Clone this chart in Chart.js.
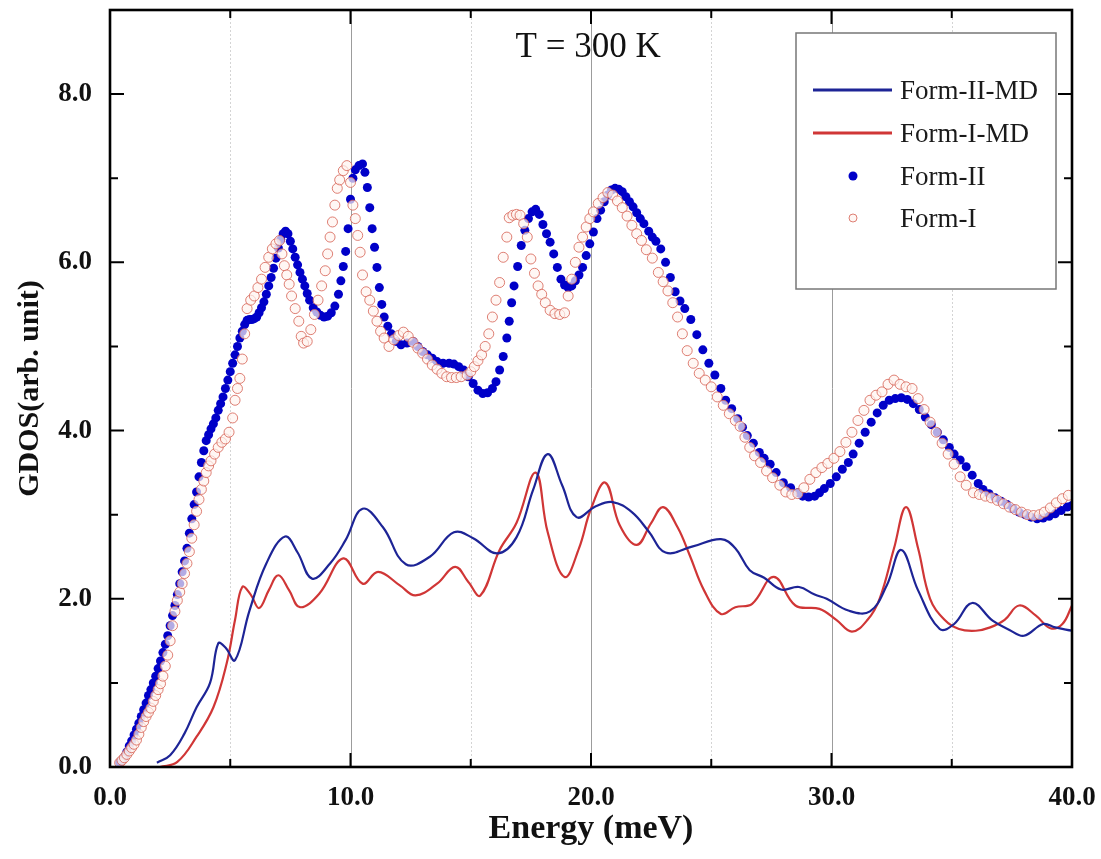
<!DOCTYPE html>
<html>
<head>
<meta charset="utf-8">
<script src="https://cdn.jsdelivr.net/npm/chart.js@4.4.0/dist/chart.umd.min.js"></script>
<style>
  html, body { margin: 0; padding: 0; background: #fff; }
  canvas { display: block; }
</style>
</head>
<body>
<canvas id="gdos" width="1101" height="859"></canvas>
<script>
// Form-II-MD (blue line)
const form2mdE = [1.95, 2.5, 3.1, 3.6, 4.16, 4.5, 4.8, 5.2, 5.8, 6.5, 7.28, 7.8, 8.4, 9.15, 9.8, 10.5, 11.35, 12.3, 13.3, 14.3, 15.1, 16.1, 16.9, 17.6, 18.2, 18.8, 19.4, 20.2, 20.9, 21.7, 22.4, 23.1, 24.2, 25.4, 26.0, 26.6, 27.2, 27.9, 28.65, 29.3, 29.8, 30.7, 31.6, 32.3, 32.9, 33.6, 34.5, 35.1, 35.85, 36.7, 37.4, 38.0, 38.8, 39.3, 40.0]
const form2mdG = [0.05, 0.14, 0.4, 0.71, 1.0, 1.47, 1.42, 1.27, 1.86, 2.42, 2.74, 2.55, 2.24, 2.42, 2.7, 3.07, 2.85, 2.41, 2.5, 2.79, 2.72, 2.54, 2.73, 3.3, 3.72, 3.35, 2.97, 3.1, 3.15, 3.03, 2.8, 2.55, 2.62, 2.71, 2.6, 2.34, 2.25, 2.11, 2.14, 2.05, 2.0, 1.86, 1.85, 2.16, 2.58, 2.1, 1.64, 1.7, 1.95, 1.74, 1.63, 1.56, 1.7, 1.66, 1.62]

// Form-I-MD (red line)
const form1mdE = [2.08, 2.8, 3.6, 4.3, 4.85, 5.2, 5.5, 5.85, 6.2, 6.6, 7.0, 7.45, 7.9, 8.7, 9.7, 10.5, 11.15, 12.05, 12.7, 13.6, 14.35, 14.9, 15.4, 16.2, 16.9, 17.7, 18.2, 18.9, 19.5, 20.0, 20.6, 21.2, 21.9, 22.5, 23.0, 23.6, 24.1, 24.7, 25.4, 26.0, 26.7, 27.6, 28.5, 29.5, 30.2, 30.85, 31.5, 32.0, 32.6, 33.1, 33.6, 34.1, 34.7, 35.3, 36.0, 36.6, 37.2, 37.8, 38.5, 39.1, 39.6, 40.0]
const form1mdG = [0.0, 0.06, 0.36, 0.71, 1.23, 1.75, 2.14, 2.05, 1.89, 2.1, 2.28, 2.1, 1.9, 2.06, 2.48, 2.18, 2.32, 2.16, 2.04, 2.18, 2.38, 2.2, 2.04, 2.58, 2.9, 3.5, 2.79, 2.26, 2.6, 3.07, 3.38, 2.87, 2.64, 2.9, 3.09, 2.85, 2.52, 2.1, 1.82, 1.9, 1.94, 2.26, 1.92, 1.88, 1.75, 1.61, 1.75, 2.0, 2.6, 3.09, 2.6, 2.0, 1.75, 1.64, 1.62, 1.66, 1.75, 1.92, 1.8, 1.65, 1.7, 1.92]

// Form-II (filled blue dots)
const form2E = [0.4, 0.5, 0.6, 0.7, 0.8, 0.9, 1.0, 1.1, 1.2, 1.3, 1.4, 1.5, 1.6, 1.7, 1.8, 1.9, 2.0, 2.1, 2.2, 2.3, 2.4, 2.5, 2.6, 2.7, 2.8, 2.9, 3.0, 3.1, 3.2, 3.3, 3.4, 3.5, 3.6, 3.7, 3.8, 3.9, 4.0, 4.1, 4.2, 4.3, 4.4, 4.5, 4.6, 4.7, 4.8, 4.9, 5.0, 5.1, 5.2, 5.3, 5.4, 5.5, 5.6, 5.7, 5.8, 5.9, 6.0, 6.1, 6.2, 6.3, 6.4, 6.5, 6.6, 6.7, 6.8, 6.9, 7.0, 7.1, 7.2, 7.3, 7.4, 7.5, 7.6, 7.7, 7.8, 7.9, 8.0, 8.1, 8.2, 8.3, 8.45, 8.6, 8.75, 8.9, 9.05, 9.2, 9.35, 9.5, 9.6, 9.7, 9.8, 9.9, 10.0, 10.1, 10.2, 10.35, 10.5, 10.6, 10.7, 10.8, 10.9, 11.0, 11.1, 11.2, 11.3, 11.4, 11.55, 11.7, 11.9, 12.1, 12.35, 12.6, 12.8, 13.0, 13.2, 13.4, 13.6, 13.85, 14.1, 14.3, 14.5, 14.7, 14.9, 15.1, 15.3, 15.5, 15.7, 15.9, 16.05, 16.2, 16.35, 16.5, 16.6, 16.7, 16.8, 16.95, 17.1, 17.25, 17.4, 17.55, 17.7, 17.85, 18.0, 18.15, 18.3, 18.45, 18.6, 18.75, 18.9, 19.05, 19.2, 19.35, 19.5, 19.65, 19.8, 19.95, 20.1, 20.25, 20.4, 20.55, 20.7, 20.85, 21.0, 21.15, 21.3, 21.45, 21.6, 21.75, 21.9, 22.05, 22.2, 22.4, 22.55, 22.7, 22.9, 23.1, 23.3, 23.5, 23.7, 23.9, 24.15, 24.4, 24.65, 24.9, 25.15, 25.4, 25.6, 25.85, 26.1, 26.3, 26.5, 26.75, 27.0, 27.2, 27.45, 27.7, 28.0, 28.3, 28.6, 28.8, 29.05, 29.3, 29.5, 29.7, 29.95, 30.2, 30.45, 30.7, 30.9, 31.15, 31.4, 31.65, 31.9, 32.15, 32.4, 32.65, 32.9, 33.15, 33.4, 33.65, 33.9, 34.15, 34.4, 34.65, 34.9, 35.1, 35.35, 35.6, 35.85, 36.1, 36.3, 36.55, 36.8, 37.05, 37.3, 37.55, 37.8, 38.05, 38.3, 38.55, 38.8, 39.05, 39.3, 39.55, 39.8, 40.0]
const form2G = [0.05, 0.08, 0.12, 0.18, 0.25, 0.31, 0.38, 0.45, 0.52, 0.6, 0.68, 0.76, 0.85, 0.92, 1.0, 1.08, 1.17, 1.26, 1.36, 1.46, 1.56, 1.68, 1.8, 1.92, 2.05, 2.18, 2.32, 2.45, 2.6, 2.78, 2.95, 3.12, 3.27, 3.45, 3.62, 3.76, 3.88, 3.95, 4.02, 4.08, 4.15, 4.24, 4.32, 4.4, 4.5, 4.6, 4.7, 4.8, 4.9, 5.0, 5.1, 5.18, 5.26, 5.31, 5.32, 5.32, 5.33, 5.35, 5.4, 5.46, 5.53, 5.62, 5.72, 5.82, 5.93, 6.05, 6.17, 6.27, 6.34, 6.37, 6.34, 6.25, 6.16, 6.06, 5.97, 5.88, 5.8, 5.72, 5.63, 5.55, 5.46, 5.41, 5.37, 5.35, 5.36, 5.4, 5.48, 5.62, 5.78, 5.95, 6.13, 6.4, 6.75, 7.0, 7.1, 7.15, 7.17, 7.07, 6.89, 6.65, 6.4, 6.18, 5.94, 5.7, 5.5, 5.35, 5.24, 5.15, 5.06, 5.02, 5.04, 5.06, 5.0, 4.94, 4.9, 4.86, 4.82, 4.8, 4.8, 4.79, 4.76, 4.72, 4.64, 4.56, 4.48, 4.44, 4.45, 4.5, 4.58, 4.72, 4.88, 5.1, 5.3, 5.52, 5.72, 5.95, 6.2, 6.38, 6.52, 6.6, 6.63, 6.57, 6.45, 6.34, 6.24, 6.1, 5.94, 5.8, 5.73, 5.7, 5.72, 5.78, 5.85, 5.94, 6.08, 6.22, 6.36, 6.52, 6.62, 6.72, 6.8, 6.86, 6.88, 6.87, 6.84, 6.78, 6.72, 6.66, 6.59, 6.52, 6.46, 6.37, 6.3, 6.25, 6.16, 6.0, 5.82, 5.65, 5.54, 5.45, 5.32, 5.14, 4.96, 4.8, 4.66, 4.5, 4.36, 4.26, 4.14, 4.04, 3.94, 3.85, 3.74, 3.67, 3.6, 3.5, 3.38, 3.32, 3.26, 3.22, 3.21, 3.22, 3.26, 3.31, 3.37, 3.45, 3.54, 3.62, 3.72, 3.85, 3.98, 4.1, 4.21, 4.3, 4.36, 4.38, 4.39, 4.37, 4.32, 4.25, 4.16, 4.07, 3.98, 3.89, 3.8, 3.72, 3.65, 3.57, 3.47, 3.37, 3.3, 3.25, 3.2, 3.16, 3.12, 3.07, 3.03, 3.0, 2.97, 2.95, 2.96, 2.98, 3.01, 3.05, 3.09, 3.11]

// Form-I (open red circles)
const form1E = [0.4, 0.5, 0.6, 0.7, 0.8, 0.9, 1.0, 1.1, 1.2, 1.3, 1.4, 1.5, 1.6, 1.7, 1.8, 1.9, 2.0, 2.1, 2.2, 2.3, 2.4, 2.5, 2.6, 2.7, 2.8, 2.9, 3.0, 3.1, 3.2, 3.3, 3.4, 3.5, 3.6, 3.7, 3.8, 3.9, 4.0, 4.1, 4.2, 4.35, 4.5, 4.65, 4.8, 4.95, 5.1, 5.2, 5.3, 5.4, 5.5, 5.6, 5.7, 5.85, 6.0, 6.15, 6.3, 6.45, 6.6, 6.75, 6.9, 7.05, 7.15, 7.25, 7.35, 7.45, 7.55, 7.7, 7.85, 7.95, 8.05, 8.2, 8.35, 8.5, 8.65, 8.8, 8.95, 9.05, 9.15, 9.25, 9.35, 9.45, 9.55, 9.7, 9.85, 10.0, 10.1, 10.2, 10.3, 10.4, 10.5, 10.65, 10.8, 10.95, 11.1, 11.25, 11.4, 11.6, 11.8, 12.0, 12.2, 12.4, 12.6, 12.8, 13.0, 13.2, 13.4, 13.6, 13.8, 14.0, 14.2, 14.4, 14.6, 14.85, 15.0, 15.15, 15.3, 15.45, 15.6, 15.75, 15.9, 16.05, 16.2, 16.35, 16.5, 16.6, 16.75, 16.9, 17.05, 17.2, 17.35, 17.5, 17.65, 17.8, 17.95, 18.1, 18.3, 18.5, 18.7, 18.9, 19.05, 19.2, 19.35, 19.5, 19.65, 19.8, 19.95, 20.1, 20.3, 20.5, 20.7, 20.9, 21.1, 21.3, 21.5, 21.7, 21.9, 22.1, 22.3, 22.55, 22.8, 23.0, 23.2, 23.4, 23.6, 23.8, 24.0, 24.25, 24.5, 24.75, 25.0, 25.25, 25.5, 25.75, 26.0, 26.2, 26.4, 26.6, 26.8, 27.05, 27.3, 27.55, 27.85, 28.1, 28.35, 28.6, 28.85, 29.1, 29.35, 29.6, 29.85, 30.1, 30.35, 30.6, 30.85, 31.1, 31.35, 31.6, 31.85, 32.1, 32.35, 32.6, 32.85, 33.1, 33.35, 33.6, 33.85, 34.1, 34.35, 34.6, 34.85, 35.1, 35.35, 35.6, 35.9, 36.15, 36.4, 36.65, 36.9, 37.15, 37.4, 37.65, 37.9, 38.15, 38.4, 38.65, 38.85, 39.1, 39.35, 39.6, 39.85]
const form1G = [0.05, 0.08, 0.11, 0.15, 0.19, 0.23, 0.27, 0.32, 0.39, 0.47, 0.54, 0.6, 0.65, 0.7, 0.78, 0.85, 0.92, 0.99, 1.08, 1.2, 1.33, 1.5, 1.68, 1.85, 1.98, 2.08, 2.18, 2.3, 2.42, 2.56, 2.72, 2.88, 3.04, 3.18, 3.3, 3.4, 3.5, 3.58, 3.64, 3.72, 3.8, 3.86, 3.9, 3.98, 4.15, 4.36, 4.5, 4.62, 4.85, 5.15, 5.45, 5.55, 5.6, 5.7, 5.8, 5.94, 6.06, 6.16, 6.22, 6.26, 6.1, 5.96, 5.85, 5.74, 5.6, 5.45, 5.3, 5.12, 5.04, 5.06, 5.2, 5.38, 5.55, 5.72, 5.9, 6.1, 6.3, 6.48, 6.68, 6.88, 6.98, 7.09, 7.15, 6.95, 6.68, 6.52, 6.32, 6.12, 5.85, 5.65, 5.55, 5.42, 5.3, 5.18, 5.1, 5.0, 5.08, 5.13, 5.17, 5.12, 5.05, 4.98, 4.92, 4.85, 4.78, 4.73, 4.68, 4.64, 4.63, 4.63, 4.64, 4.66, 4.7, 4.76, 4.83, 4.9, 5.0, 5.15, 5.35, 5.55, 5.76, 6.06, 6.3, 6.53, 6.56, 6.57, 6.56, 6.46, 6.3, 6.04, 5.87, 5.72, 5.62, 5.52, 5.43, 5.39, 5.38, 5.4, 5.6, 5.8, 6.0, 6.18, 6.3, 6.42, 6.52, 6.6, 6.7, 6.77, 6.83, 6.8, 6.73, 6.65, 6.55, 6.44, 6.34, 6.26, 6.15, 6.05, 5.88, 5.77, 5.66, 5.52, 5.35, 5.15, 4.95, 4.8, 4.68, 4.6, 4.52, 4.4, 4.3, 4.2, 4.12, 4.05, 3.92, 3.8, 3.7, 3.62, 3.52, 3.44, 3.35, 3.27, 3.24, 3.25, 3.32, 3.42, 3.5, 3.56, 3.61, 3.67, 3.75, 3.86, 3.98, 4.12, 4.24, 4.36, 4.42, 4.46, 4.55, 4.6, 4.55, 4.52, 4.5, 4.38, 4.25, 4.1, 3.98, 3.85, 3.72, 3.6, 3.45, 3.35, 3.26, 3.24, 3.22, 3.2, 3.17, 3.13, 3.09, 3.06, 3.03, 3.0, 2.99, 3.0, 3.03, 3.08, 3.14, 3.19, 3.23]

const xTicks = [0, 10, 20, 30, 40]
const yTicks = [0, 2, 4, 6, 8]
const tempLabel = 'T = 300 K'

function pts(xs, ys) {
    return xs.map((x, i) => ({ x: x, y: ys[i] }))
}

const serif = "'Liberation Serif', 'Times New Roman', serif"

// vertical grid lines: solid at majors, dotted at minors
const gridLines = {
    id: 'gridLines',
    beforeDatasetsDraw(chart) {
        const { ctx, chartArea: a, scales: { x } } = chart
        ctx.save()
        x.ticks.forEach(t => {
            if (t.value <= x.min || t.value >= x.max) return
            const px = Math.round(x.getPixelForValue(t.value)) + 0.5
            const major = t.value % 10 === 0
            ctx.strokeStyle = major ? '#9c9c9c' : '#d4d4d4'
            ctx.lineWidth = 1
            ctx.setLineDash(major ? [] : [2, 2])
            ctx.beginPath()
            ctx.moveTo(px, a.top)
            ctx.lineTo(px, a.bottom)
            ctx.stroke()
        })
        ctx.restore()
    }
}

// box frame with inward ticks on all four sides, plus label and legend
const frame = {
    id: 'frame',
    afterDatasetsDraw(chart) {
        const { ctx, chartArea: a, scales: { x, y } } = chart
        ctx.save()
        ctx.strokeStyle = '#000'
        ctx.lineWidth = 2
        ctx.setLineDash([])
        x.ticks.forEach(t => {
            const px = x.getPixelForValue(t.value)
            const len = t.value % 10 === 0 ? 14 : 8
            ctx.beginPath()
            ctx.moveTo(px, a.bottom); ctx.lineTo(px, a.bottom - len)
            ctx.moveTo(px, a.top); ctx.lineTo(px, a.top + len)
            ctx.stroke()
        })
        y.ticks.forEach(t => {
            const py = y.getPixelForValue(t.value)
            const len = t.value % 2 === 0 ? 14 : 8
            ctx.beginPath()
            ctx.moveTo(a.left, py); ctx.lineTo(a.left + len, py)
            ctx.moveTo(a.right, py); ctx.lineTo(a.right - len, py)
            ctx.stroke()
        })
        ctx.lineWidth = 2.6
        ctx.strokeRect(a.left, a.top, a.right - a.left, a.bottom - a.top)
        ctx.restore()
    },
    afterDraw(chart) {
        const { ctx, chartArea: a } = chart
        const ds = chart.data.datasets
        ctx.save()
        // temperature label
        ctx.fillStyle = '#111'
        ctx.font = '35px ' + serif
        ctx.textAlign = 'center'
        ctx.textBaseline = 'middle'
        ctx.fillText(tempLabel, a.left + (a.right - a.left) * 0.497, a.top + 38)

        // legend box
        const bx = a.right - 276, by = a.top + 23, bw = 260, bh = 256
        ctx.fillStyle = '#fff'
        ctx.fillRect(bx, by, bw, bh)
        ctx.strokeStyle = '#777'
        ctx.lineWidth = 1.5
        ctx.strokeRect(bx, by, bw, bh)
        const rows = [57, 100, 143, 185]
        ctx.font = '27px ' + serif
        ctx.textAlign = 'left'
        ds.forEach((d, i) => {
            const ry = by + rows[i]
            if (d.showLine === false) {
                ctx.beginPath()
                ctx.arc(bx + 57, ry, i === 2 ? 4.5 : 4, 0, Math.PI * 2)
                ctx.fillStyle = d.backgroundColor
                ctx.fill()
                if (d.borderWidth) {
                    ctx.strokeStyle = d.borderColor
                    ctx.lineWidth = 1
                    ctx.stroke()
                }
            } else {
                ctx.strokeStyle = d.borderColor
                ctx.lineWidth = 3
                ctx.beginPath()
                ctx.moveTo(bx + 17, ry); ctx.lineTo(bx + 96, ry)
                ctx.stroke()
            }
            ctx.fillStyle = '#1a1a1a'
            ctx.fillText(d.label, bx + 104, ry + 2)
        })
        ctx.restore()
    }
}

new Chart(document.getElementById('gdos'), {
    type: 'line',
    data: {
        datasets: [
            {
                label: 'Form-II-MD',
                data: pts(form2mdE, form2mdG),
                borderColor: '#1d2496',
                borderWidth: 2.2,
                pointRadius: 0,
                tension: 0.4,
                fill: false,
                order: 3
            },
            {
                label: 'Form-I-MD',
                data: pts(form1mdE, form1mdG),
                borderColor: '#d03636',
                borderWidth: 2.2,
                pointRadius: 0,
                tension: 0.4,
                fill: false,
                order: 4
            },
            {
                label: 'Form-II',
                data: pts(form2E, form2G),
                showLine: false,
                pointRadius: 4.5,
                pointBorderWidth: 0,
                borderWidth: 0,
                backgroundColor: '#0000c8',
                pointBackgroundColor: '#0000c8',
                order: 2
            },
            {
                label: 'Form-I',
                data: pts(form1E, form1G),
                showLine: false,
                pointRadius: 5,
                borderWidth: 1,
                pointBorderWidth: 1,
                borderColor: 'rgba(214,96,82,0.8)',
                pointBorderColor: 'rgba(214,96,82,0.8)',
                backgroundColor: 'rgba(255,244,240,0.7)',
                pointBackgroundColor: 'rgba(255,244,240,0.7)',
                order: 1
            }
        ]
    },
    options: {
        responsive: false,
        animation: false,
        events: [],
        layout: { padding: { left: 0, right: 29, top: 10, bottom: 0 } },
        plugins: { legend: { display: false }, tooltip: { enabled: false } },
        scales: {
            x: {
                type: 'linear',
                min: 0,
                max: 40,
                grid: { display: false, drawTicks: false },
                border: { display: false },
                afterFit: s => { s.height = 92; s.paddingLeft = 0; s.paddingRight = 0 },
                ticks: {
                    stepSize: 5,
                    autoSkip: false,
                    maxRotation: 0,
                    padding: 15,
                    color: '#111',
                    font: { family: serif, size: 27, weight: 'bold' },
                    callback: v => xTicks.includes(v) ? v.toFixed(1) : ''
                },
                title: {
                    display: true,
                    text: 'Energy (meV)',
                    color: '#111',
                    font: { family: serif, size: 34, weight: 'bold' },
                    padding: { top: 0, bottom: 9 }
                }
            },
            y: {
                min: 0,
                max: 9,
                grid: { display: false, drawTicks: false },
                border: { display: false },
                afterFit: s => { s.width = 110; s.paddingTop = 0; s.paddingBottom = 0 },
                ticks: {
                    stepSize: 1,
                    autoSkip: false,
                    padding: 18,
                    color: '#111',
                    font: { family: serif, size: 27, weight: 'bold' },
                    callback: v => yTicks.includes(v) ? v.toFixed(1) : ''
                },
                title: {
                    display: true,
                    text: 'GDOS(arb. unit)',
                    color: '#111',
                    font: { family: serif, size: 30, weight: 'bold' },
                    padding: { top: 12, bottom: 0 }
                }
            }
        }
    },
    plugins: [gridLines, frame]
})
</script>
</body>
</html>
